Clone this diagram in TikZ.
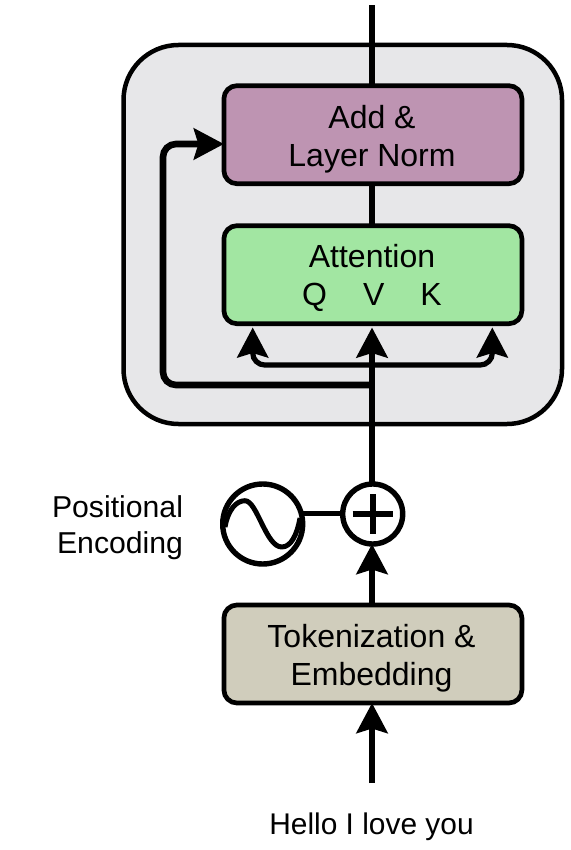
\documentclass[tikz,border=0pt]{standalone}
\usepackage{fontspec}
\setmainfont{Liberation Sans}
\usetikzlibrary{arrows.meta}
\tikzset{
  blockbox/.style={draw=black,line width=4.7pt,rounded corners=13pt,minimum width=298pt,minimum height=98pt,outer sep=0pt,inner sep=0pt,align=center,text depth=0pt},
  blocktext/.style={font=\fontsize{32}{38}\selectfont,inner sep=0pt,outer sep=0pt,align=center},
  ringshape/.style={draw=black,circle,line width=5.4pt,fill=white,outer sep=0pt,inner sep=0pt},
  labeltext/.style={font=\fontsize{30.2}{36}\selectfont,inner sep=0pt,outer sep=0pt},
  wire/.style={line width=6.6pt,draw=black},
  thinwire/.style={line width=5.2pt,draw=black},
  head/.style={-{Stealth[length=30pt,width=31pt,inset=4.5pt]}}
}
\definecolor{panelgrey}{HTML}{E7E7E9}
\definecolor{addcolor}{HTML}{BE94B2}
\definecolor{attncolor}{HTML}{A2E6A2}
\definecolor{tokcolor}{HTML}{D0CDBC}
\begin{document}
\begin{tikzpicture}[x=1pt,y=-1pt]
\useasboundingbox (0,0) rectangle (570,850);
\node[draw=black,line width=4.5pt,fill=panelgrey,rounded corners=55pt,minimum width=438.5pt,minimum height=379pt,outer sep=0pt,inner sep=0pt] (panel) at (342.75,234.5) {};
\coordinate (topend) at (372,5);
\coordinate (inend) at (372,783);
\coordinate (branch) at (372,365);
\coordinate (loop) at (372,385);
\node[blockbox,fill=addcolor] (add) at (372.9,134.7) {};
\node[blockbox,fill=attncolor] (attn) at (372.9,274.7) {};
\node[blockbox,fill=tokcolor] (tok) at (372.9,654) {};
\node[blocktext] (addtext) at (372,139) {Add \&\\Layer Norm};
\node[blocktext] (attntext) at (372,278) {Attention\\Q\hspace{36pt}V\hspace{36pt}K};
\node[blocktext] (toktext) at (371.5,658) {Tokenization \&\\Embedding};
\node[ringshape,minimum size=60pt] (plus) at (372.7,514) {};
\node[ringshape,minimum size=80pt] (wave) at (262.7,524) {};
\node[labeltext,align=right,anchor=east] (pos) at (183,528) {Positional\\Encoding};
\node[labeltext,font=\fontsize{29.9}{36}\selectfont,anchor=base] (hello) at (371.5,834) {Hello I love you};
\coordinate (qin) at (252.7,327.5);
\coordinate (kin) at (492.3,327.5);
\coordinate (vin) at (372,327.5);
\draw[wire] (add.north -| topend) -- (topend);
\draw[wire] (attn.north -| topend) -- (add.south -| topend);
\draw[wire,head] (plus.north -| topend) -- (vin);
\draw[wire,head,rounded corners=13pt] (loop) -- (163,385) -- (163,144) -- (add.west |- 0,144);
\draw[thinwire,head,rounded corners=12pt] (branch) -- (252.7,365) -- (qin);
\draw[thinwire,head,rounded corners=12pt] (branch) -- (492.3,365) -- (kin);
\draw[wire,head] (tok.north -| topend) -- (plus.south -| topend);
\draw[wire,head] (inend) -- (tok.south -| topend);
\draw[thinwire] (wave.east |- 0,513.5) -- (plus.west |- 0,513.5);
\draw[line width=6pt,black] (352.7,513.7) -- (392.7,513.7);
\draw[line width=6pt,black] (372.7,494) -- (372.7,534);
\draw[line width=5pt,black,line join=round] (225,527) .. controls (228,510) and (236,500.7) .. (245,500.7) .. controls (257,500.7) and (266,547) .. (281.7,547) .. controls (291,547) and (297,535) .. (300,518);
\end{tikzpicture}
\end{document}
